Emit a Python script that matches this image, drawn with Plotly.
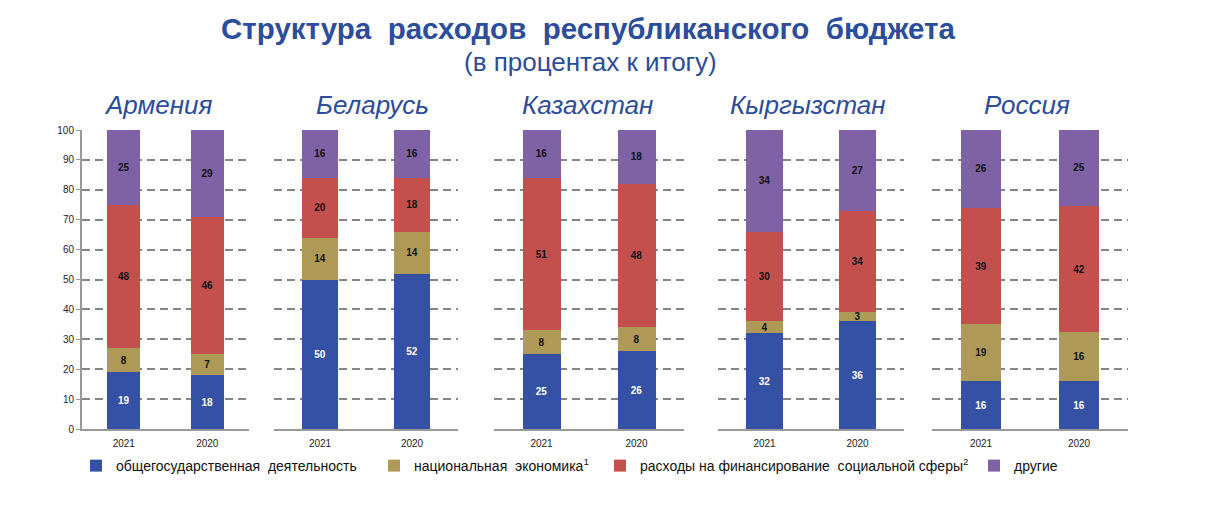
import plotly.graph_objects as go

# ---------------- data ----------------
countries = ["Армения", "Беларусь", "Казахстан", "Кыргызстан", "Россия"]
years = ["2021", "2020"]
gov = [[19, 18], [50, 52], [25, 26], [32, 36], [16, 15.9]]
econ = [[8, 7], [14, 14], [8, 8], [4, 3], [19, 16.4]]
social = [[48, 46], [20, 18], [51, 48], [30, 34], [39, 42.4]]
other = [[25, 29], [16, 16], [16, 18], [34, 27], [26, 25.3]]

series_names = [
    "общегосударственная  деятельность",
    "национальная  экономика<sup>1</sup>",
    "расходы на финансирование  социальной сферы<sup>2</sup>",
    "другие",
]
series_values = [gov, econ, social, other]
series_colors = ["#3451A6", "#AE9A56", "#C4504E", "#7F62A5"]
label_colors = ["#FFFFFF", "#111111", "#111111", "#111111"]

title_text = "Структура  расходов  республиканского  бюджета"
subtitle_text = "(в процентах к итогу)"
y_ticks = [0, 10, 20, 30, 40, 50, 60, 70, 80, 90, 100]

# ---------------- layout geometry ----------------
# page body has an 8px margin; the figure fills the rest of the window
OFF = 8
W, H = 1217 - 2 * OFF, 508 - 2 * OFF


def X(px):
    return (px - OFF) / W


def Y(py):
    return 1 - (py - OFF) / H


panels_px = [(82, 249), (274, 458), (494, 684), (718, 904), (932, 1128)]
name_centers_px = [158, 372, 587, 808, 1027]
y_dom = [Y(429), Y(130)]
legend_px = [76, 374, 600, 974]
BLUE = "#2C4C9C"
GRID = "#858585"
AXIS = "#9A9A9A"
FONT = "Liberation Sans, Arial, sans-serif"

fig = go.Figure()

legend_ids = ["legend", "legend2", "legend3", "legend4"]
for p, country in enumerate(countries):
    ax = "" if p == 0 else str(p + 1)
    for s in range(4):
        vals = [series_values[s][p][0], series_values[s][p][1]]
        fig.add_trace(go.Bar(
            x=years, y=vals,
            name=series_names[s],
            marker=dict(color=series_colors[s], line=dict(width=0)),
            width=0.4,
            texttemplate="%{y:.0f}",
            textposition="inside",
            insidetextanchor="middle",
            constraintext="none",
            textangle=0,
            textfont=dict(family=FONT, size=10, color=label_colors[s], weight="bold"),
            xaxis="x" + ax, yaxis="y" + ax,
            showlegend=(p == 0),
            legend=legend_ids[s],
            hoverinfo="skip",
        ))

layout = dict(
    width=W, height=H,
    margin=dict(l=0, r=0, t=0, b=0, autoexpand=False),
    paper_bgcolor="white", plot_bgcolor="white",
    barmode="stack",
    font=dict(family=FONT, size=10, color="#222222"),
    title=dict(
        text="<b>" + title_text + "</b>",
        x=X(588), xanchor="center",
        y=Y(29), yanchor="middle",
        font=dict(family=FONT, size=29.5, color=BLUE),
    ),
)

for p in range(5):
    ax = "" if p == 0 else str(p + 1)
    x0, x1 = panels_px[p]
    layout["xaxis" + ax] = dict(
        domain=[X(x0), X(x1)],
        anchor="y" + ax,
        type="category",
        range=[-0.5, 1.5],
        showline=True, linecolor=AXIS, linewidth=2,
        ticks="", showgrid=False,
        ticklabelstandoff=4,
        tickfont=dict(family=FONT, size=10, color="#222222"),
        fixedrange=True,
    )
    layout["yaxis" + ax] = dict(
        domain=y_dom,
        anchor="x" + ax,
        range=[0, 100],
        tickvals=y_ticks,
        showgrid=True, gridcolor=GRID, gridwidth=1.6, griddash="8px,5px",
        zeroline=False,
        showline=(p == 0), linecolor=AXIS, linewidth=2,
        ticks="outside" if p == 0 else "", ticklen=4, tickcolor=AXIS, tickwidth=1,
        showticklabels=(p == 0),
        tickfont=dict(family=FONT, size=10, color="#222222"),
        fixedrange=True,
    )

annotations = [dict(
    text=subtitle_text, xref="paper", yref="paper",
    x=X(590), y=Y(62), xanchor="center", yanchor="middle",
    showarrow=False, font=dict(family=FONT, size=26, color=BLUE),
)]
for p, country in enumerate(countries):
    annotations.append(dict(
        text=country, xref="paper", yref="paper",
        x=X(name_centers_px[p]), y=Y(105), xanchor="center", yanchor="middle",
        showarrow=False,
        font=dict(family=FONT, size=26, color=BLUE, style="italic"),
    ))
layout["annotations"] = annotations

for i, lid in enumerate(legend_ids):
    layout[lid] = dict(
        orientation="h",
        x=X(legend_px[i]), xanchor="left",
        y=Y(466), yanchor="middle",
        bgcolor="rgba(0,0,0,0)", borderwidth=0,
        font=dict(family=FONT, size=14, color="#111111"),
        itemclick=False, itemdoubleclick=False,
    )

fig.update_layout(**layout)
fig.write_html("out.html")
